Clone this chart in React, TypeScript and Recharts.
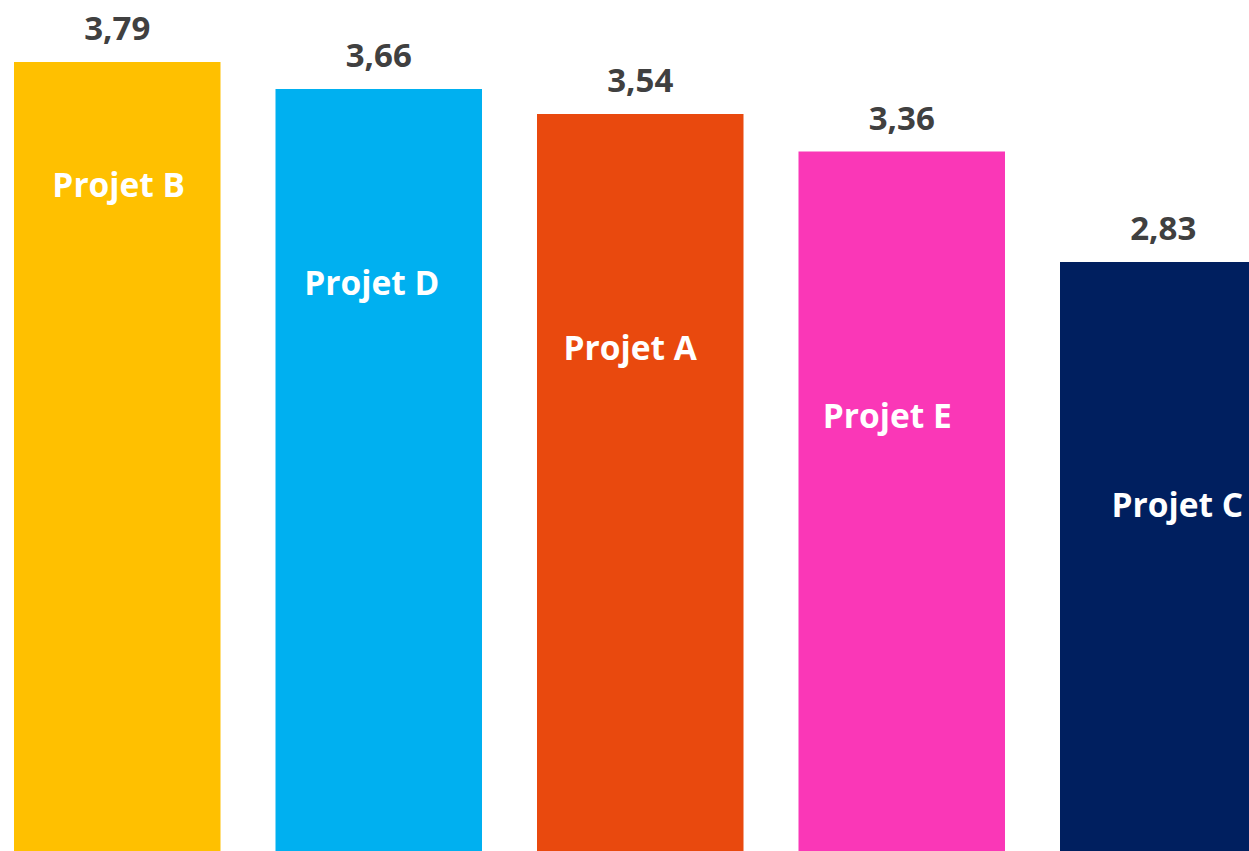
import React from 'react'
import { BarChart, Bar, XAxis, YAxis, Cell, LabelList } from 'recharts'

const projects = ['Projet B', 'Projet D', 'Projet A', 'Projet E', 'Projet C']
const scores = [3.79, 3.66, 3.54, 3.36, 2.83]
const colors = ['#FFC000', '#00B0F0', '#E9490E', '#FA37B7', '#001F5F']

// hand-placed name labels inside the bars (offset from bar centre / bar top)
const nameShift = [
  { dx: 1.5, dy: 135 },
  { dx: -7, dy: 206 },
  { dx: -10, dy: 246 },
  { dx: -14.5, dy: 276 },
  { dx: 14, dy: 255 },
]

const data = projects.map((name, i) => ({ name, score: scores[i] }))

const FONT = '"Open Sans", sans-serif'

function ValueLabel(props: any) {
  const { x, y, width, value } = props
  return (
    <text
      x={x + width / 2}
      y={y - 22}
      textAnchor="middle"
      fill="#404040"
      fontFamily={FONT}
      fontWeight={700}
      fontSize={33}
    >
      {String(value.toFixed(2)).replace('.', ',')}
    </text>
  )
}

function NameLabel(props: any) {
  const { x, y, width, value, index } = props
  const s = nameShift[index] || { dx: 0, dy: 120 }
  return (
    <text
      x={x + width / 2 + s.dx}
      y={y + s.dy}
      textAnchor="middle"
      fill="#FFFFFF"
      fontFamily={FONT}
      fontWeight={700}
      fontSize={33.5}
    >
      {value}
    </text>
  )
}

export default function App() {
  return (
    <div
      style={{
        position: 'fixed',
        top: 0,
        left: 0,
        width: 1249,
        height: 851,
        overflow: 'hidden',
        background: '#fff',
      }}
    >
      <div style={{ position: 'absolute', top: 0, left: -13.75 }}>
        <BarChart
          width={1307.5}
          height={851}
          data={data}
          margin={{ top: 0, right: 0, bottom: 0, left: 0 }}
        >
          <XAxis dataKey="name" hide />
          <YAxis hide domain={[0, 4.088]} allowDataOverflow />
          <Bar dataKey="score" barSize={206.5} isAnimationActive={false}>
            {data.map((d, i) => (
              <Cell key={d.name} fill={colors[i]} />
            ))}
            <LabelList dataKey="score" content={ValueLabel} />
            <LabelList dataKey="name" content={NameLabel} />
          </Bar>
        </BarChart>
      </div>
    </div>
  )
}
